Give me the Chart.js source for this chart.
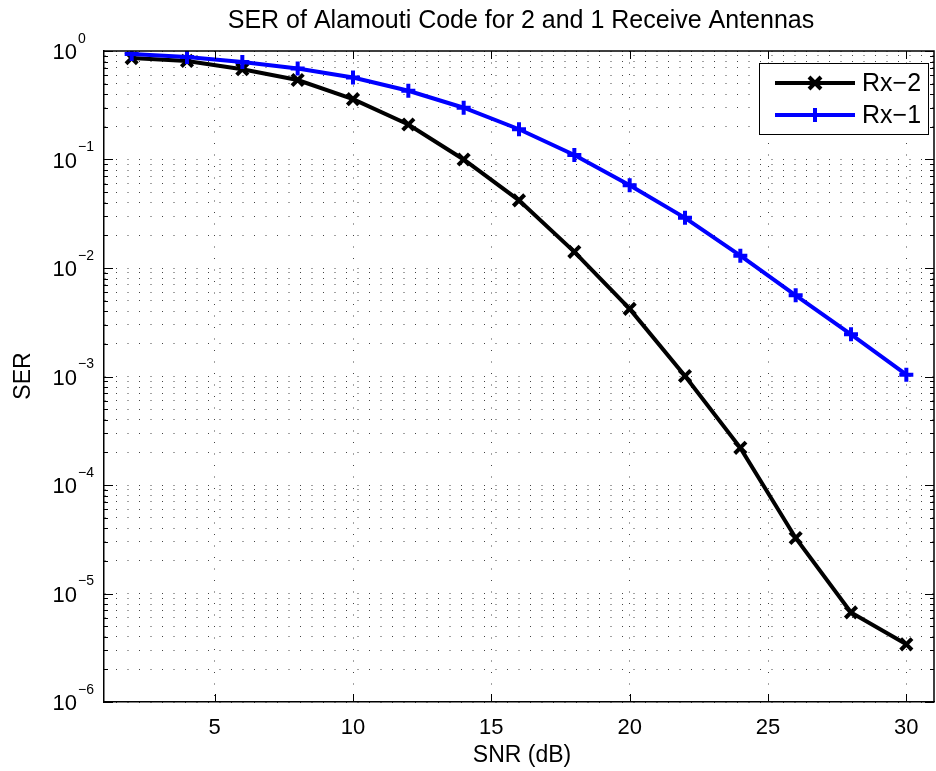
<!DOCTYPE html>
<html>
<head>
<meta charset="utf-8">
<script src="https://cdn.jsdelivr.net/npm/chart.js@4/dist/chart.umd.min.js"></script>
<style>
    html, body { margin: 0; padding: 0; background: #fff; overflow: hidden; }
    #serChart { display: block; }
</style>
</head>
<body>
<canvas id="serChart" width="946" height="771" style="width:946px;height:771px"></canvas>
<script>
// SNR in dB
const snr = [2, 4, 6, 8, 10, 12, 14, 16, 18, 20, 22, 24, 26, 28, 30];
// symbol error rate, two receive antennas
const serRx2 = [0.86, 0.81, 0.68, 0.54, 0.36, 0.21, 0.10, 0.042, 0.0141, 0.0042, 0.00101, 2.2e-4, 3.25e-5, 6.7e-6, 3.4e-6];
// symbol error rate, one receive antenna
const serRx1 = [0.94, 0.88, 0.79, 0.69, 0.57, 0.43, 0.30, 0.19, 0.11, 0.058, 0.029, 0.013, 0.0056, 0.00245, 0.00104];

const xTicks = [5, 10, 15, 20, 25, 30];
const yDecades = [-6, -5, -4, -3, -2, -1, 0];

const FONT = '"Liberation Sans", Arial, Helvetica, sans-serif';

// every 1..9 x 10^n position for the dotted minor grid
const yGridValues = [];
yDecades.forEach((d) => {
    for (let m = 1; m <= 9; m++) {
        const v = m * Math.pow(10, d);
        if (v <= 1.0000001) yGridValues.push(v);
    }
});

const toPoints = (ys) => snr.map((x, i) => ({ x, y: ys[i] }));

// MATLAB style frame: inward ticks, top/right box, superscript labels, titles, legend
const matlabFrame = {
    id: "matlabFrame",
    afterDraw(chart) {
        const { ctx, chartArea: area, scales: { x, y } } = chart;
        ctx.save();
        ctx.strokeStyle = "#000";
        ctx.lineWidth = 1.5;

        // top and right edges of the box
        ctx.beginPath();
        ctx.moveTo(area.left, area.top);
        ctx.lineTo(area.right, area.top);
        ctx.lineTo(area.right, area.bottom);
        ctx.stroke();

        // x ticks, bottom and top
        ctx.lineWidth = 1;
        ctx.beginPath();
        xTicks.forEach((v) => {
            const px = Math.round(x.getPixelForValue(v)) + 0.5;
            ctx.moveTo(px, area.bottom);
            ctx.lineTo(px, area.bottom - 8);
            ctx.moveTo(px, area.top);
            ctx.lineTo(px, area.top + 8);
        });
        // y ticks, left and right
        yGridValues.forEach((v) => {
            const py = Math.round(y.getPixelForValue(v)) + 0.5;
            const major = Math.abs(Math.log10(v) - Math.round(Math.log10(v))) < 1e-9;
            const len = major ? 9 : 4;
            ctx.moveTo(area.left, py);
            ctx.lineTo(area.left + len, py);
            ctx.moveTo(area.right, py);
            ctx.lineTo(area.right - len, py);
        });
        ctx.stroke();

        // y tick labels 10^n
        ctx.fillStyle = "#000";
        yDecades.forEach((d) => {
            const py = y.getPixelForValue(Math.pow(10, d));
            ctx.font = `22px ${FONT}`;
            ctx.textAlign = "right";
            ctx.textBaseline = "middle";
            ctx.fillText("10", 77, py + 2);
            ctx.font = `14px ${FONT}`;
            ctx.textAlign = "left";
            ctx.fillText(d === 0 ? "0" : "\u2212" + Math.abs(d), 78, py - 12);
        });

        // titles
        ctx.textAlign = "center";
        ctx.textBaseline = "alphabetic";
        ctx.font = `25px ${FONT}`;
        ctx.fillText("SER of Alamouti Code for 2 and 1 Receive Antennas", 521, 28);
        ctx.font = `23px ${FONT}`;
        ctx.textBaseline = "middle";
        ctx.fillText("SNR (dB)", 522, 756);
        ctx.save();
        ctx.translate(24, 376);
        ctx.rotate(-Math.PI / 2);
        ctx.fillText("SER", 0, 0);
        ctx.restore();

        // legend box
        const box = { left: 759.5, top: 63.5, right: 928.5, bottom: 134.5 };
        ctx.fillStyle = "#fff";
        ctx.fillRect(box.left, box.top, box.right - box.left, box.bottom - box.top);
        ctx.strokeStyle = "#000";
        ctx.lineWidth = 1;
        ctx.strokeRect(box.left, box.top, box.right - box.left, box.bottom - box.top);

        const rows = [
            { label: "Rx\u22122", color: "#000000", y: 83, style: "x" },
            { label: "Rx\u22121", color: "#0000ff", y: 115, style: "+" },
        ];
        rows.forEach((row) => {
            ctx.strokeStyle = row.color;
            ctx.lineWidth = 4;
            ctx.beginPath();
            ctx.moveTo(775, row.y);
            ctx.lineTo(855, row.y);
            ctx.stroke();
            ctx.lineWidth = 4;
            ctx.beginPath();
            if (row.style === "x") {
                ctx.moveTo(809, row.y - 6); ctx.lineTo(821, row.y + 6);
                ctx.moveTo(809, row.y + 6); ctx.lineTo(821, row.y - 6);
            } else {
                ctx.moveTo(815, row.y - 7); ctx.lineTo(815, row.y + 7);
                ctx.moveTo(808, row.y); ctx.lineTo(822, row.y);
            }
            ctx.stroke();
            ctx.fillStyle = "#000";
            ctx.font = `25px ${FONT}`;
            ctx.textAlign = "left";
            ctx.textBaseline = "middle";
            ctx.fillText(row.label, 862, row.y + 1);
        });

        ctx.restore();
    }
};

new Chart(document.getElementById("serChart"), {
    type: "line",
    data: {
        datasets: [
            {
                label: "Rx\u22122",
                data: toPoints(serRx2),
                borderColor: "#000000",
                backgroundColor: "#000000",
                borderWidth: 4,
                pointStyle: "crossRot",
                pointRadius: 8,
                pointBorderWidth: 4,
                tension: 0,
                order: 1
            },
            {
                label: "Rx\u22121",
                data: toPoints(serRx1),
                borderColor: "#0000ff",
                backgroundColor: "#0000ff",
                borderWidth: 4,
                pointStyle: "cross",
                pointRadius: 7,
                pointBorderWidth: 4,
                tension: 0,
                order: 0
            }
        ]
    },
    options: {
        responsive: false,
        animation: false,
        layout: { padding: { top: 51, right: 6, left: 0, bottom: 0 } },
        plugins: {
            legend: { display: false },
            title: { display: false },
            tooltip: { enabled: false }
        },
        scales: {
            x: {
                type: "linear",
                min: 1,
                max: 31,
                afterBuildTicks: (axis) => { axis.ticks = xTicks.map((v) => ({ value: v })); },
                afterFit: (scale) => { scale.height = 69; },
                ticks: {
                    color: "#000",
                    padding: 13,
                    autoSkip: false,
                    maxRotation: 0,
                    font: { family: FONT, size: 22 }
                },
                grid: { color: "#444", lineWidth: 1, drawTicks: false },
                border: { color: "#000", width: 1.5, dash: [1, 10.5] }
            },
            y: {
                type: "logarithmic",
                min: 1e-6,
                max: 1,
                afterBuildTicks: (axis) => { axis.ticks = yGridValues.map((v) => ({ value: v })); },
                afterFit: (scale) => { scale.width = 104; },
                ticks: { display: false },
                grid: { color: "#444", lineWidth: 1, drawTicks: false },
                border: { color: "#000", width: 1.5, dash: [1, 10.5] }
            }
        }
    },
    plugins: [matlabFrame]
});
</script>
</body>
</html>
